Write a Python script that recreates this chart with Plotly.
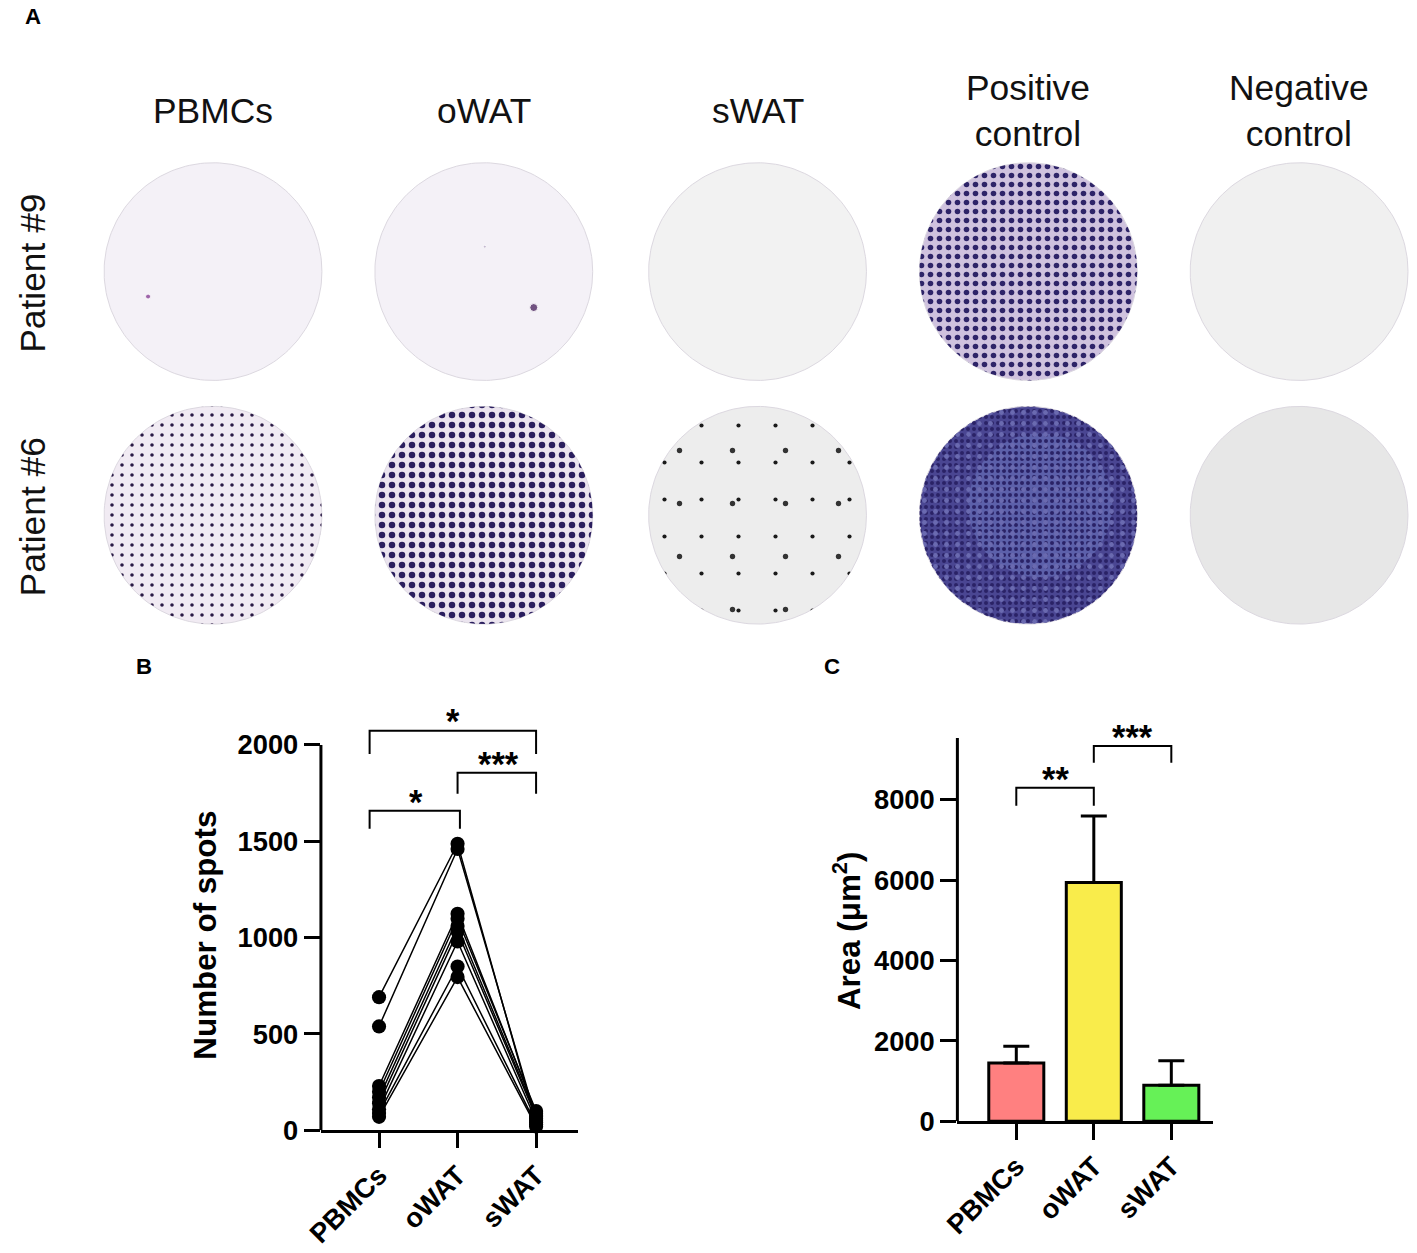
import numpy as np
import plotly.graph_objects as go

W, H = 1417, 1253          # reference picture size
S = 1417 / 1433            # page-to-picture scale observed in the renderer
OX = 16                    # page offset (page px) observed in the renderer
FW = int(round(W / S - OX))
FH = int(round(H / S))
FONT = "Arial, Liberation Sans, sans-serif"

# ---------------- data ----------------
groups = ["PBMCs", "oWAT", "sWAT"]
# Panel B: number of spots per patient (paired)
pbmc_spots = [691, 539, 230, 200, 170, 140, 110, 90, 70]
owat_spots = [1487, 1460, 1124, 1098, 1060, 1030, 980, 850, 795]
swat_spots = [40, 60, 90, 100, 80, 70, 50, 30, 20]
spots_ticks = [0, 500, 1000, 1500, 2000]

# Panel C: mean spot area with SD (upper only)
area_mean = [1450, 5940, 895]
area_err = [420, 1655, 612]
area_ticks = [0, 2000, 4000, 6000, 8000]
bar_colors = ["#ff8080", "#f9ec4b", "#66f157"]

# significance brackets: (x0, x1, y_bar, y_foot, label, y_label, x_label)
b_brackets = [(-0.12, 2.0, 2073, 1953, "*", 2124, 0.94),
              (1.0, 2.0, 1855, 1746, "***", 1902, 1.52),
              (-0.12, 1.03, 1658, 1565, "*", 1705, 0.47)]
c_brackets = [(0.0, 1.0, 8300, 7850, "**", 8522, 0.5),
              (1.0, 2.0, 9340, 8920, "***", 9565, 1.5)]

# Panel A: ELISpot wells
well_cols = ["PBMCs", "oWAT", "sWAT", "Positive<br>control", "Negative<br>control"]
well_rows = ["Patient #9", "Patient #6"]
# appearance per well (row-major): background, then speckle layers (colour, tile, solidity)
well_looks = [
    [("#f4f1f7", []), ("#f4f1f7", []), ("#f2f2f2", []),
     ("#cfc2de", [("#2e2468", 9, 0.30)]), ("#f0f0f0", [])],
    [("#f1ebf3", [("#2a1a45", 10, 0.10)]),
     ("#ebe4ef", [("#2a1e5e", 10, 0.33)]),
     ("#ededed", [("#1a1a1a", 37, 0.010), ("#333333", 53, 0.008)]),
     ("#4a4692", [("#2a2266", 6, 0.35), ("#6a6ab0", 11, 0.15)]),
     ("#e7e7e7", [])],
]
# isolated spots visible on otherwise empty wells (pixel space)
lone_spot_x = [147, 533, 484]
lone_spot_y = [297, 308, 247]
lone_spot_size = [5, 8, 3]
lone_spot_color = ["#7a2a8a", "#3a1050", "#b0a0c0"]

# ---------------- layout geometry (reference pixels) ----------------
col_cx = [212, 483, 757, 1028, 1299]
row_cy = [272, 516]
R = 109
A_BOTTOM = 640

B_x0, B_x1, B_y0 = 320, 577, 1132
B_ppu = 386 / 2000
B_top_val = 2250
C_x0, C_x1, C_y0 = 957, 1213, 1123
C_ppu = 322 / 8000
C_top_val = 9900


def pxx(p):
    return (p / S - OX) / FW


def py(p):
    return 1 - (p / S) / FH


def sz(v):
    return v / S


fig = go.Figure()

# ---------------- Panel A ----------------
theta = np.linspace(0, 2 * np.pi, 180)
for ri, cy in enumerate(row_cy):
    for ci, cx in enumerate(col_cx):
        bg, layers = well_looks[ri][ci]
        cxs, cys = cx + R * np.cos(theta), cy + R * np.sin(theta)
        fig.add_trace(go.Scatter(
            x=cxs, y=cys, mode="lines", fill="toself", fillcolor=bg,
            line=dict(color="#dcd8e0", width=1),
            xaxis="x3", yaxis="y3", hoverinfo="skip", showlegend=False))
        if ri == 1 and ci == 3:
            fig.add_trace(go.Scatter(
                x=cx + 12 + 72 * np.cos(theta), y=cy - 10 + 72 * np.sin(theta),
                mode="lines", fill="toself", fillcolor="rgba(125,145,215,0.35)",
                line=dict(width=0), xaxis="x3", yaxis="y3",
                hoverinfo="skip", showlegend=False))
        for fg, tile, sol in layers:
            fig.add_trace(go.Scatter(
                x=cxs, y=cys, mode="lines", fill="toself", fillcolor="rgba(0,0,0,0)",
                fillpattern=dict(shape=".", bgcolor="rgba(0,0,0,0)", fgcolor=fg,
                                 size=tile, solidity=sol, fillmode="replace"),
                line=dict(width=0), xaxis="x3", yaxis="y3",
                hoverinfo="skip", showlegend=False))

fig.add_trace(go.Scatter(x=lone_spot_x, y=lone_spot_y, mode="markers",
                         marker=dict(size=lone_spot_size, color=lone_spot_color),
                         xaxis="x3", yaxis="y3", hoverinfo="skip", showlegend=False))

annotations = []
for ci, cx in enumerate(col_cx):
    annotations.append(dict(x=cx, y=111, xref="x3", yref="y3", text=well_cols[ci],
                            showarrow=False, font=dict(family=FONT, size=sz(35), color="#111"),
                            xanchor="center", yanchor="middle"))
for ri, cy in enumerate(row_cy):
    annotations.append(dict(x=31, y=cy + 2, xref="x3", yref="y3", text=well_rows[ri],
                            showarrow=False, textangle=-90,
                            font=dict(family=FONT, size=sz(35), color="#111"),
                            xanchor="center", yanchor="middle"))

# panel letters
for lab, x, y in [("A", 32, 17), ("B", 143, 667), ("C", 832, 667)]:
    annotations.append(dict(x=pxx(x), y=py(y), xref="paper", yref="paper", text=lab,
                            showarrow=False,
                            font=dict(family=FONT, size=sz(22), color="black", weight="bold"),
                            xanchor="center", yanchor="middle"))

# ---------------- Panel B ----------------
for a, b, c in zip(pbmc_spots, owat_spots, swat_spots):
    fig.add_trace(go.Scatter(x=[0, 1, 2], y=[a, b, c], mode="lines+markers",
                             line=dict(color="black", width=1.5),
                             marker=dict(size=sz(14), color="black"),
                             cliponaxis=False, xaxis="x", yaxis="y",
                             hoverinfo="skip", showlegend=False))

# ---------------- Panel C ----------------
fig.add_trace(go.Bar(x=[0, 1, 2], y=area_mean, width=0.71,
                     marker=dict(color=bar_colors, line=dict(color="black", width=3)),
                     error_y=dict(type="data", array=area_err, arrayminus=[0, 0, 0],
                                  symmetric=False, thickness=3, width=13, color="black"),
                     xaxis="x2", yaxis="y2", hoverinfo="skip", showlegend=False))

shapes = []
# custom y-axis lines that stop at the last tick
shapes.append(dict(type="line", xref="x domain", yref="y", x0=0, x1=0, y0=0, y1=2000,
                   line=dict(color="black", width=3)))
shapes.append(dict(type="line", xref="x2 domain", yref="y2", x0=0, x1=0, y0=0, y1=9540,
                   line=dict(color="black", width=3)))

for (x0, x1, yb, yf, lab, yl, xl), xr, yr in \
        [(b, "x", "y") for b in b_brackets] + [(c, "x2", "y2") for c in c_brackets]:
    shapes.append(dict(type="path", xref=xr, yref=yr,
                       path=f"M {x0},{yf} L {x0},{yb} L {x1},{yb} L {x1},{yf}",
                       line=dict(color="black", width=2)))
    annotations.append(dict(x=xl, y=yl, xref=xr, yref=yr, text=lab, showarrow=False,
                            font=dict(family=FONT, size=sz(34), color="black", weight="bold"),
                            xanchor="center", yanchor="middle"))

annotations.append(dict(x=pxx(205), y=py(937), xref="paper", yref="paper",
                        text="Number of spots", textangle=-90, showarrow=False,
                        font=dict(family=FONT, size=sz(31), color="black", weight="bold"),
                        xanchor="center", yanchor="middle"))
annotations.append(dict(x=pxx(846), y=py(932), xref="paper", yref="paper",
                        text="Area (μm<sup>2</sup>)", textangle=-90, showarrow=False,
                        font=dict(family=FONT, size=sz(31), color="black", weight="bold"),
                        xanchor="center", yanchor="middle"))

tickfont = dict(family=FONT, size=sz(27), color="black", weight="bold")


def xcat(domain, rng):
    return dict(domain=domain, range=rng, tickvals=[0, 1, 2], ticktext=groups,
                tickangle=-45, tickfont=tickfont, showline=True, linecolor="black",
                linewidth=3, ticks="outside", ticklen=sz(15), tickwidth=3, tickcolor="black",
                showgrid=False, zeroline=False, fixedrange=True)


def yval(domain, rng, tv):
    return dict(domain=domain, range=rng, tickvals=tv, tickfont=tickfont, showline=False,
                ticks="outside", ticklen=sz(16), tickwidth=3, tickcolor="black",
                showgrid=False, zeroline=False, fixedrange=True)


B_rng = [-0.74, 2.53]
C_rng = [-0.76, 2.54]
fig.update_layout(
    width=FW, height=FH, margin=dict(l=0, r=0, t=0, b=0),
    paper_bgcolor="white", plot_bgcolor="rgba(0,0,0,0)",
    font=dict(family=FONT),
    xaxis=dict(xcat([pxx(B_x0), pxx(B_x1)], B_rng), anchor="y"),
    yaxis=dict(yval([py(B_y0), py(B_y0 - B_top_val * B_ppu)], [0, B_top_val], spots_ticks), anchor="x"),
    xaxis2=dict(xcat([pxx(C_x0), pxx(C_x1)], C_rng), anchor="y2"),
    yaxis2=dict(yval([py(C_y0), py(C_y0 - C_top_val * C_ppu)], [0, C_top_val], area_ticks), anchor="x2"),
    xaxis3=dict(domain=[0, 1], range=[S * OX, S * (FW + OX)], visible=False, anchor="y3",
                fixedrange=True),
    yaxis3=dict(domain=[py(A_BOTTOM), 1], range=[A_BOTTOM, 0], visible=False, anchor="x3",
                fixedrange=True),
    shapes=shapes, annotations=annotations,
)

fig.write_html("out.html", config={"displayModeBar": False},
               post_script="document.body.style.margin='0';document.body.style.overflow='hidden';")
